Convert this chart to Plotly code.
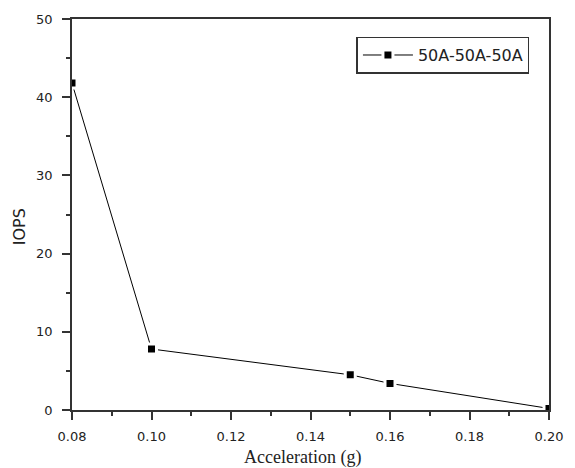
import plotly.graph_objects as go

accel = [0.08, 0.10, 0.15, 0.16, 0.20]
iops = [41.8, 7.8, 4.5, 3.4, 0.2]
series_name = "50A-50A-50A"
x_ticks = [0.08, 0.10, 0.12, 0.14, 0.16, 0.18, 0.20]
y_ticks = [0, 10, 20, 30, 40, 50]

axis_col = "#333333"
sans = "DejaVu Sans"

fig = go.Figure()
fig.add_trace(go.Scatter(
    x=accel, y=iops, mode="lines+markers", name=series_name,
    line=dict(color="black", width=1),
    marker=dict(symbol="square", size=10, color="black",
                line=dict(color="white", width=3)),
))

fig.update_layout(
    width=575, height=468,
    margin=dict(l=72, r=13, t=13, b=58),
    paper_bgcolor="white", plot_bgcolor="white",
    showlegend=True,
    legend=dict(x=0.959, y=0.955, xanchor="right", yanchor="top",
                bordercolor="#333333", borderwidth=1.5, bgcolor="white",
                font=dict(family=sans, size=16, color="#222"),
                itemwidth=50),
    font=dict(family=sans, size=13, color="#222"),
)

fig.update_xaxes(
    range=[0.08, 0.20], tickvals=x_ticks, tickformat=".2f",
    showgrid=False, zeroline=False,
    showline=True, linecolor=axis_col, linewidth=1.5, mirror=True,
    ticks="outside", ticklen=8, tickwidth=1.5, tickcolor=axis_col,
    ticklabelstandoff=6, ticklabeloverflow="allow",
    minor=dict(dtick=0.01, ticks="outside", ticklen=4, tickwidth=1.5, tickcolor=axis_col),
    tickfont=dict(family=sans, size=13),
)
fig.update_yaxes(
    range=[0, 50], tickvals=y_ticks,
    showgrid=False, zeroline=False,
    showline=True, linecolor=axis_col, linewidth=1.5, mirror=True,
    ticks="outside", ticklen=8, tickwidth=1.5, tickcolor=axis_col,
    ticklabelstandoff=7, ticklabeloverflow="allow",
    minor=dict(dtick=5, ticks="outside", ticklen=4, tickwidth=1.5, tickcolor=axis_col),
    tickfont=dict(family=sans, size=13),
)

fig.add_annotation(text="Acceleration (g)", xref="paper", yref="paper",
                   x=(309 - 72) / 490, y=-(458 - 410) / 397,
                   xanchor="center", yanchor="middle", showarrow=False,
                   font=dict(family="Liberation Serif, Times New Roman", size=18, color="#222"))
fig.add_annotation(text="IOPS", xref="paper", yref="paper",
                   x=-(72 - 18) / 490, y=(410 - 224) / 397, textangle=-90,
                   xanchor="center", yanchor="middle", showarrow=False,
                   font=dict(family=sans, size=16, color="#222"))

fig.write_html("out.html")
